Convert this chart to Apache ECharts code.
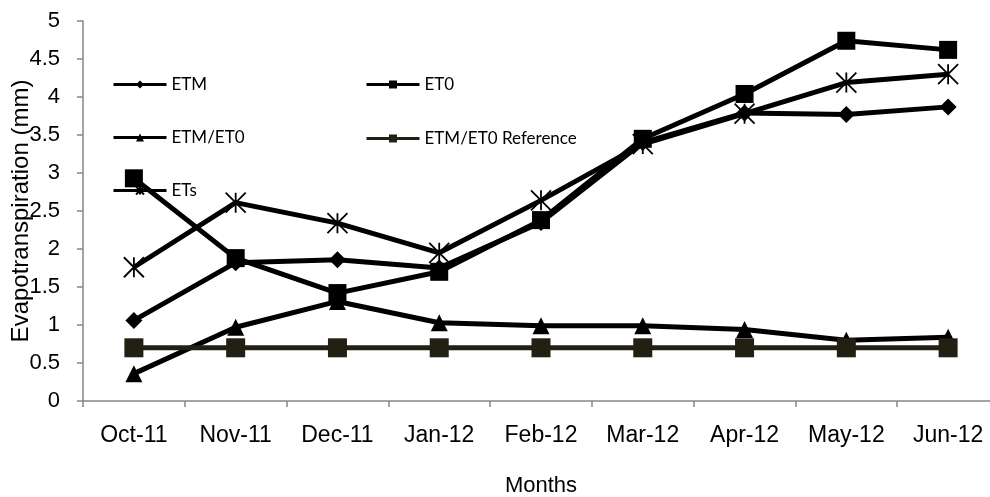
<!DOCTYPE html>
<html>
<head>
<meta charset="utf-8">
<script src="https://cdn.jsdelivr.net/npm/echarts@6/dist/echarts.min.js"></script>
<style>
html,body{margin:0;padding:0;background:#fff;}
#c{width:990px;height:497px;}
</style>
</head>
<body>
<div id="c"></div>
<script>
var categories = ['Oct-11','Nov-11','Dec-11','Jan-12','Feb-12','Mar-12','Apr-12','May-12','Jun-12'];
var etm      = [1.06, 1.82, 1.86, 1.75, 2.35, 3.40, 3.79, 3.77, 3.87];
var et0      = [2.93, 1.88, 1.42, 1.70, 2.38, 3.45, 4.04, 4.74, 4.62];
var ratio    = [0.36, 0.97, 1.31, 1.03, 0.99, 0.99, 0.94, 0.80, 0.84];
var ratioRef = [0.70, 0.70, 0.70, 0.70, 0.70, 0.70, 0.70, 0.70, 0.70];
var ets      = [1.76, 2.61, 2.34, 1.95, 2.64, 3.38, 3.78, 4.19, 4.30];
var yTicks   = [0, 0.5, 1, 1.5, 2, 2.5, 3, 3.5, 4, 4.5, 5];

var starPath = 'path://M0,0L20,20M20,0L0,20M10,0L10,20';
var black = '#000000';
var refColor = '#221f13';

function mkLegend(name, left, top) {
  return {
    data: [name], left: left, top: top, padding: 0,
    itemWidth: 53, itemHeight: 10, itemGap: 0,
    selectedMode: false,
    lineStyle: { width: 3 },
    textStyle: { fontFamily: 'Lato', fontSize: 17, color: '#000', lineHeight: 16, padding: [0,0,0,0] }
  };
}

var chart = echarts.init(document.getElementById('c'), null, { renderer: 'canvas' });
chart.setOption({
  animation: false,
  backgroundColor: '#ffffff',
  legend: [
    mkLegend('ETM', 112, 76),
    mkLegend('ET0', 365, 76),
    mkLegend('ETM/ET0', 112, 129),
    mkLegend('ETM/ET0 Reference', 365, 130),
    mkLegend('ETs', 112, 182)
  ],
  grid: { left: 83, top: 21, width: 916, height: 380, containLabel: false, outerBoundsMode: 'none' },
  xAxis: {
    type: 'category',
    data: categories,
    boundaryGap: true,
    name: 'Months',
    nameLocation: 'middle',
    nameGap: 74,
    nameMoveOverlap: false,
    nameTextStyle: { fontFamily: 'Liberation Sans', fontSize: 22, color: '#000' },
    axisLine: { lineStyle: { color: '#868686', width: 1.5 } },
    axisTick: { show: true, length: 6, alignWithLabel: false, lineStyle: { color: '#868686', width: 1.5 } },
    axisLabel: { fontFamily: 'Liberation Sans', fontSize: 23, color: '#000', margin: 23, interval: 0 },
    splitLine: { show: false }
  },
  yAxis: {
    type: 'value',
    min: 0, max: 5, interval: 0.5,
    name: 'Evapotranspiration (mm)',
    nameLocation: 'middle',
    nameGap: 50,
    nameMoveOverlap: false,
    nameTextStyle: { fontFamily: 'Liberation Sans', fontSize: 24, color: '#000' },
    axisLine: { show: true, lineStyle: { color: '#868686', width: 1.5 } },
    axisTick: { show: true, length: 6, lineStyle: { color: '#868686', width: 1.5 } },
    axisLabel: {
      fontFamily: 'Liberation Sans', fontSize: 22, color: '#000', margin: 23,
      formatter: function (v) { return yTicks.indexOf(v) >= 0 ? String(v) : ''; }
    },
    splitLine: { show: false }
  },
  series: [
    { name: 'ETM', type: 'line', data: etm, symbol: 'diamond', symbolSize: 17,
      lineStyle: { color: black, width: 5 }, itemStyle: { color: black } },
    { name: 'ET0', type: 'line', data: et0, symbol: 'rect', symbolSize: 18,
      lineStyle: { color: black, width: 5 }, itemStyle: { color: black } },
    { name: 'ETM/ET0', type: 'line', data: ratio, symbol: 'triangle', symbolSize: 17,
      lineStyle: { color: black, width: 5 }, itemStyle: { color: black } },
    { name: 'ETM/ET0 Reference', type: 'line', data: ratioRef, symbol: 'rect', symbolSize: 19,
      lineStyle: { color: refColor, width: 5 }, itemStyle: { color: refColor } },
    { name: 'ETs', type: 'line', data: ets, symbol: starPath, symbolSize: 20,
      lineStyle: { color: black, width: 5 },
      itemStyle: { color: black, borderColor: black, borderWidth: 1.8 } }
  ]
});
</script>
</body>
</html>
